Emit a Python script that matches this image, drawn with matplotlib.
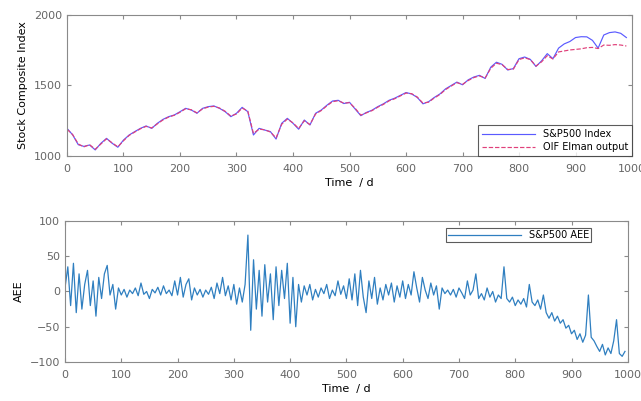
import matplotlib
matplotlib.use("Agg")
import matplotlib.pyplot as plt
import numpy as np

# S&P500 index, one value every 10 days (t = 0..990)
sp500 = [1196, 1150, 1080, 1068, 1078, 1043, 1090, 1125, 1090, 1062,
         1113, 1149, 1173, 1196, 1213, 1196, 1232, 1260, 1279, 1291,
         1314, 1338, 1326, 1303, 1338, 1350, 1355, 1338, 1314, 1279,
         1303, 1345, 1314, 1149, 1196, 1184, 1173, 1120, 1232, 1267,
         1232, 1190, 1255, 1220, 1303, 1326, 1360, 1390, 1395, 1372,
         1381, 1333, 1286, 1309, 1325, 1350, 1370, 1395, 1410, 1430,
         1450, 1440, 1415, 1370, 1385, 1415, 1440, 1476, 1500, 1524,
         1505, 1540, 1560, 1572, 1550, 1630, 1665, 1650, 1610, 1620,
         1690, 1702, 1685, 1635, 1675, 1726, 1690, 1765, 1795, 1812,
         1840, 1846, 1845, 1820, 1765, 1858, 1875, 1880, 1870, 1840]

# OIF Elman output, same days
elman = [1190, 1152, 1085, 1065, 1080, 1048, 1085, 1122, 1093, 1065,
         1108, 1146, 1170, 1193, 1210, 1199, 1228, 1256, 1276, 1289,
         1310, 1335, 1328, 1306, 1334, 1347, 1352, 1340, 1317, 1283,
         1298, 1340, 1318, 1160, 1190, 1186, 1170, 1128, 1225, 1262,
         1235, 1195, 1250, 1223, 1298, 1322, 1356, 1385, 1392, 1375,
         1378, 1338, 1290, 1306, 1322, 1346, 1366, 1391, 1406, 1426,
         1446, 1442, 1418, 1375, 1382, 1411, 1436, 1471, 1496, 1520,
         1508, 1535, 1556, 1568, 1553, 1622, 1658, 1648, 1613, 1616,
         1684, 1696, 1684, 1638, 1668, 1712, 1688, 1738, 1745, 1752,
         1756, 1760, 1768, 1770, 1762, 1787, 1785, 1790, 1787, 1780]

# AEE, one value every 5 days (t = 0..995)
aee = [5, 35, -20, 40, -30, 25, -25, 10, 30, -20, 15, -35, 20, -10, 25, 37, -5, 10, -25, 5,
       -5, 3, -8, 2, -3, 5, -6, 12, -4, 0, -10, 3, -2, 6, -5, 8, -3, 2, -6, 15,
       -5, 20, -8, 10, 18, -12, 5, -5, 3, -8, 2, -4, 6, -10, 12, -3, 20, -6, 8, -12,
       10, -18, 5, -15, 10, 80, -55, 45, -25, 30, -35, 38, -15, 25, -40, 35, -20, 30, -10, 40,
       -45, 20, -50, 10, -15, 8, -5, 10, -12, 3, -8, 5, -3, 10, -10, 2, -6, 15, -4, 8,
       -10, 18, -12, 25, -20, 30, -8, -30, 15, -10, 20, -18, 5, -12, 10, -5, 12, -15, 8, -8,
       15, -10, 10, -5, 28, 5, -15, 20, 2, -10, 12, -5, 8, -25, 5, -3, 2, -5, 3, -8,
       5, -2, -10, 15, -5, 2, 25, -10, -3, -12, 5, -8, 0, -15, -5, -10, 35, -10, -15, -8,
       -20, -12, -18, -10, -22, 10, -15, -20, -12, -25, -5, -30, -38, -30, -42, -35, -45, -40, -52, -48,
       -60, -55, -68, -60, -72, -62, -5, -65, -70, -78, -85, -75, -90, -80, -88, -70, -40, -88, -92, -85]

days10 = np.arange(len(sp500)) * 10
days5 = np.arange(len(aee)) * 5

gray = '#666666'
fig = plt.figure(figsize=(6.41, 4.01), dpi=100)

def style(ax):
    for s in ax.spines.values():
        s.set_color('#8a8a8a')
        s.set_linewidth(0.8)
    ax.tick_params(direction='in', top=True, right=True, labelsize=8,
                   colors='#8a8a8a', labelcolor=gray, length=3)
    ax.tick_params(axis='x', pad=6)

# top: index vs Elman output
ax1 = fig.add_axes([0.1045, 0.611, 0.8815, 0.3516])
ax1.plot(days10, sp500, color='#5a5aff', lw=0.85, label='S&P500 Index')
ax1.plot(days10, elman, color='#e0407a', lw=0.85, ls='--', label='OIF Elman output')
ax1.set_xlim(0, 1000)
ax1.set_ylim(1000, 2000)
ax1.set_xticks(range(0, 1001, 100))
ax1.set_yticks([1000, 1500, 2000])
style(ax1)
ax1.set_ylabel('Stock Composite Index', fontsize=8)
ax1.set_xlabel('Time  / d', fontsize=8, labelpad=3)
leg1 = ax1.legend(loc='lower right', fontsize=7, frameon=True, fancybox=False,
                  borderaxespad=0, handlelength=5.5, borderpad=0.4, labelspacing=0.3)
leg1.get_frame().set_edgecolor('#333333')
leg1.get_frame().set_linewidth(0.8)

# bottom: AEE
ax2 = fig.add_axes([0.1014, 0.0973, 0.878, 0.3516])
ax2.plot(days5, aee, color='#2f7fc0', lw=0.9, label='S&P500 AEE')
ax2.set_xlim(0, 1000)
ax2.set_ylim(-100, 100)
ax2.set_xticks(range(0, 1001, 100))
ax2.set_yticks([-100, -50, 0, 50, 100])
style(ax2)
ax2.set_ylabel('AEE', fontsize=8)
ax2.set_xlabel('Time  / d', fontsize=8, labelpad=3)
leg2 = ax2.legend(loc='upper right', bbox_to_anchor=(0.605, 0.0, 0.33, 0.95),
                  fontsize=7, frameon=True, fancybox=False, handlelength=7.5,
                  borderpad=0.2, borderaxespad=0)
leg2.get_frame().set_edgecolor('#333333')
leg2.get_frame().set_linewidth(0.8)

fig.savefig('out.png', dpi=100)
